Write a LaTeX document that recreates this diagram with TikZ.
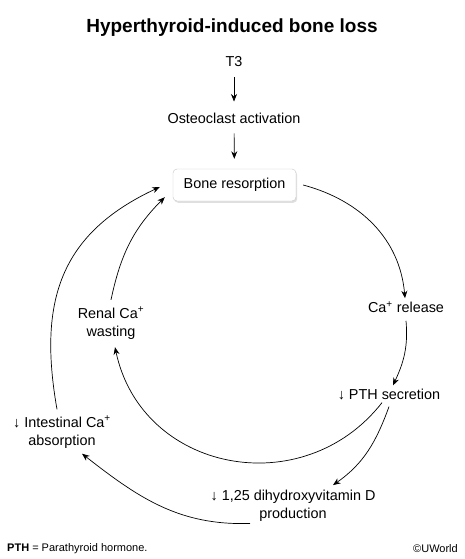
\documentclass[tikz,border=0pt]{standalone}
\usepackage{fontspec}
\setmainfont{Liberation Sans}
\usetikzlibrary{arrows.meta, shadows}

\begin{document}
\begin{tikzpicture}[x=1pt, y=1pt,
    txt/.style={align=center, inner sep=3pt, font=\fontsize{14.4}{18}\selectfont},
    box/.style={txt, rectangle, rounded corners=4pt, draw=gray!45, fill=white, minimum width=123pt, minimum height=32pt, drop shadow={shadow xshift=1.2pt, shadow yshift=-1.8pt, opacity=0.25}},
    arrow/.style={-{Stealth[length=7.5pt, width=6pt]}, line width=0.7pt}
]
\useasboundingbox (0,0) rectangle (464,-559);

% Title
\node[font=\fontsize{19}{22}\selectfont\bfseries] (title) at (232,-28) {Hyperthyroid-induced bone loss};

% Trigger chain
\node[txt] (t3) at (234,-62) {T3};
\node[txt] (osteo) at (234,-118) {Osteoclast activation};
\node[box] (bone) at (234.5,-185) {Bone resorption};

% Cycle
\node[txt] (ca) at (406,-307) {Ca\textsuperscript{+} release};
\node[txt] (pth) at (389,-394) {↓ PTH secretion};
\node[txt] (vitd) at (293,-506) {↓ 1,25 dihydroxyvitamin D\\production};
\node[txt] (intest) at (62,-432) {↓ Intestinal Ca\textsuperscript{+}\\absorption};
\node[txt] (renal) at (111,-323) {Renal Ca\textsuperscript{+}\\wasting};

% Footnotes
\node[anchor=west, inner sep=0pt, font=\fontsize{11}{13}\selectfont] (note) at (7,-549) {\textbf{PTH} = Parathyroid hormone.};
\node[anchor=east, inner sep=0pt, font=\fontsize{11}{13}\selectfont] (credit) at (458,-549) {\textcopyright UWorld};

% Arrows
\draw[arrow, shorten <=7pt, shorten >=8pt] (t3) -- (osteo);
\draw[arrow, shorten <=7pt, shorten >=10pt] (osteo) -- (bone);
\draw[arrow] ([xshift=7pt]bone.east) to[out=-15, in=95] ([xshift=-1pt]ca.north);
\draw[arrow] ([yshift=-5pt]ca.south) to[out=-85, in=65] ([xshift=4pt]pth.north);
\draw[arrow] ([xshift=-7pt]pth.south) to[out=-128, in=-78, looseness=1.2] ([xshift=4pt, yshift=-5pt]renal.south);
\draw[arrow] ([yshift=4pt]renal.north) to[out=78, in=-135] ([xshift=-8pt, yshift=4pt]bone.south west);
\draw[arrow] ([xshift=-5pt, yshift=3.5pt]intest.north) to[out=100, in=-155, looseness=1.15] ([xshift=-13pt, yshift=-2pt]bone.west);
\draw[arrow] ([yshift=-4pt]pth.south) to[out=-110, in=35] ([xshift=40pt, yshift=2pt]vitd.north);
\draw[arrow] ([xshift=-43pt, yshift=1.5pt]vitd.south) to[out=182, in=-38] ([xshift=20pt, yshift=-2.5pt]intest.south);

\end{tikzpicture}
\end{document}
